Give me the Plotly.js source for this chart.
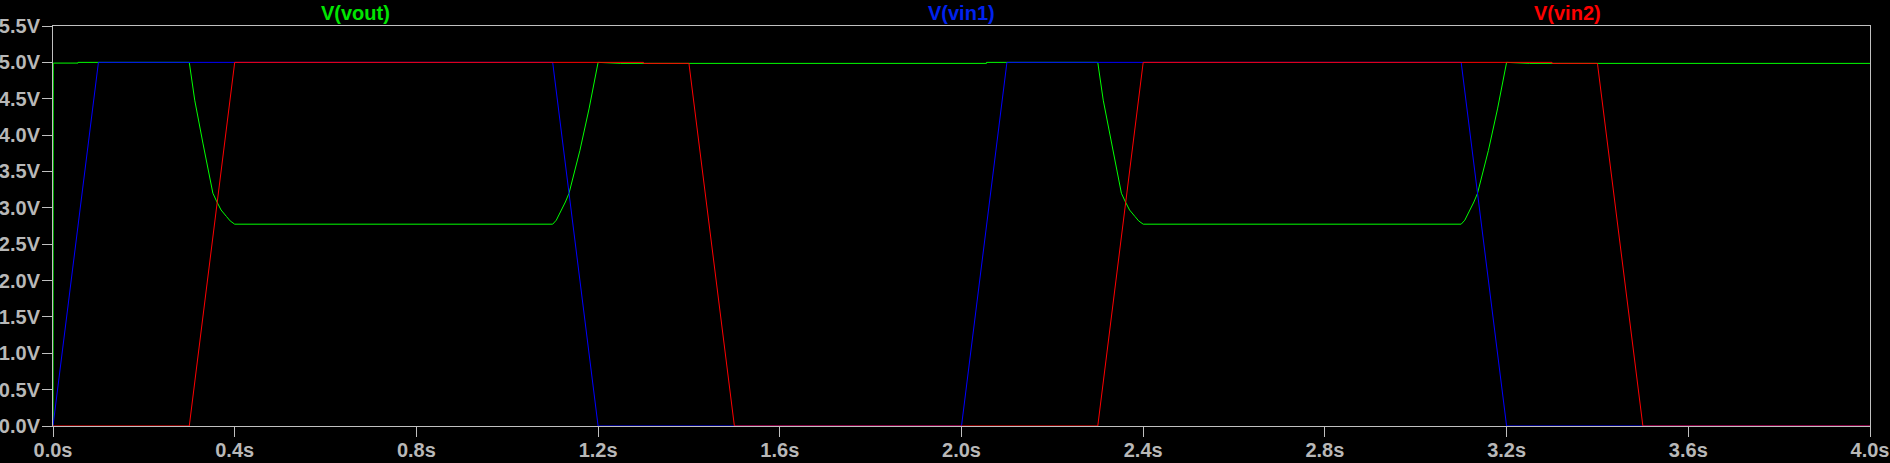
<!DOCTYPE html>
<html>
<head>
<meta charset="utf-8">
<script src="https://cdn.plot.ly/plotly-3.0.1.min.js"></script>
<style>
  html, body { margin: 0; padding: 0; background: #000; }
  #chart { width: 1890px; height: 463px; }
</style>
</head>
<body>
<div id="chart"></div>
<script>
// Series names
const seriesNames = ['V(vout)', 'V(vin1)', 'V(vin2)'];

// V(vout) — time (s) and voltage (V)
const t_vout = [0, 0.0005, 0.055, 0.0551, 0.300, 0.312, 0.330, 0.349, 0.352, 0.361, 0.370, 0.382, 0.390, 0.400,
                1.100, 1.108, 1.118, 1.128, 1.136, 1.160, 1.180, 1.200, 1.250, 2.055, 2.0551,
                2.300, 2.312, 2.330, 2.349, 2.352, 2.361, 2.370, 2.382, 2.390, 2.400,
                3.100, 3.108, 3.118, 3.128, 3.136, 3.160, 3.180, 3.200, 3.250, 4.000];
const v_vout = [0, 4.99, 4.99, 5.0, 5.0, 4.48, 3.89, 3.27, 3.20, 3.08, 2.97, 2.88, 2.82, 2.775,
                2.775, 2.83, 2.95, 3.08, 3.20, 3.79, 4.36, 5.0, 4.986, 4.986, 5.0,
                5.0, 4.48, 3.89, 3.27, 3.20, 3.08, 2.97, 2.88, 2.82, 2.775,
                2.775, 2.83, 2.95, 3.08, 3.20, 3.79, 4.36, 5.0, 4.986, 4.986];

// V(vin1)
const t_vin1 = [0, 0.1, 1.1, 1.2, 2.0, 2.1, 3.1, 3.2, 4.0];
const v_vin1 = [0, 5, 5, 0, 0, 5, 5, 0, 0];

// V(vin2)
const t_vin2 = [0, 0.3, 0.4, 1.3, 1.3001, 1.4, 1.5, 2.3, 2.4, 3.3, 3.3001, 3.4, 3.5, 4.0];
const v_vin2 = [0, 0, 5, 5, 4.986, 4.986, 0, 0, 5, 5, 4.986, 4.986, 0, 0];

// Axis ticks
const xTicks = [0, 0.4, 0.8, 1.2, 1.6, 2.0, 2.4, 2.8, 3.2, 3.6, 4.0];
const xTickLabels = ['0.0s', '0.4s', '0.8s', '1.2s', '1.6s', '2.0s', '2.4s', '2.8s', '3.2s', '3.6s', '4.0s'];
const yTicks = [0, 0.5, 1.0, 1.5, 2.0, 2.5, 3.0, 3.5, 4.0, 4.5, 5.0, 5.5];
const yTickLabels = ['0.0V', '0.5V', '1.0V', '1.5V', '2.0V', '2.5V', '3.0V', '3.5V', '4.0V', '4.5V', '5.0V', '5.5V'];

const colors = ['#00ff00', '#0000ff', '#ff0000'];
const labelColors = ['#00e600', '#0022ee', '#ff0000'];
const labelPos = [1/6, 1/2, 5/6];

const traces = [
  {x: t_vout, y: v_vout, name: seriesNames[0], mode: 'lines', line: {color: colors[0], width: 1}},
  {x: t_vin1, y: v_vin1, name: seriesNames[1], mode: 'lines', line: {color: colors[1], width: 1}},
  {x: t_vin2, y: v_vin2, name: seriesNames[2], mode: 'lines', line: {color: colors[2], width: 1}}
];

const axisColor = '#c0c0c0';
const tickFont = {family: 'Liberation Sans, Arial, sans-serif', size: 20, color: '#b8b8b8', weight: 'bold'};

const layout = {
  width: 1890, height: 463,
  paper_bgcolor: '#000', plot_bgcolor: '#000',
  margin: {l: 53, r: 20, t: 26, b: 37, pad: 0},
  showlegend: false,
  hovermode: false,
  xaxis: {
    range: [0, 4.0], tickmode: 'array', tickvals: xTicks, ticktext: xTickLabels,
    showgrid: false, zeroline: false, showline: true, mirror: true,
    linecolor: axisColor, linewidth: 1,
    ticks: 'outside', ticklen: 10, tickcolor: axisColor, tickwidth: 1,
    tickfont: tickFont, ticklabelstandoff: -4, layer: 'below traces', fixedrange: true
  },
  yaxis: {
    range: [0, 5.5], tickmode: 'array', tickvals: yTicks, ticktext: yTickLabels,
    showgrid: false, zeroline: false, showline: true, mirror: true,
    linecolor: axisColor, linewidth: 1,
    ticks: 'outside', ticklen: 10, tickcolor: axisColor, tickwidth: 1,
    tickfont: tickFont, ticklabelstandoff: -2, layer: 'below traces', fixedrange: true
  },
  annotations: seriesNames.map((n, i) => ({
    text: n, xref: 'paper', yref: 'paper', x: labelPos[i], y: 1,
    xanchor: 'center', yanchor: 'middle', yshift: 13.5, showarrow: false,
    font: {family: 'Liberation Sans, Arial, sans-serif', size: 20, color: labelColors[i], weight: 'bold'}
  }))
};

Plotly.newPlot('chart', traces, layout, {displayModeBar: false, staticPlot: true});
</script>
</body>
</html>
